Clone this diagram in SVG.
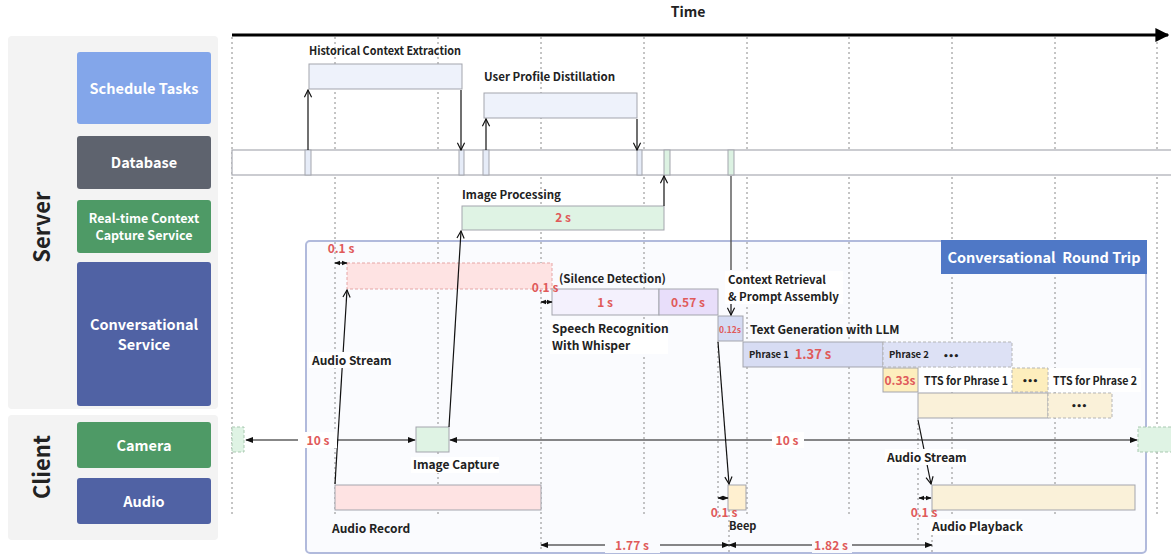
<svg xmlns="http://www.w3.org/2000/svg" width="1171" height="557" viewBox="0 0 1171 557">
<style>
text{font-family:"Noto Sans CJK SC","Noto Sans",sans-serif;font-weight:700;fill:#222}
.node{fill:#fff;font-size:14.5px;text-anchor:middle}
.grp{font-size:22px;text-anchor:middle}
.lbl{font-size:11.5px}
.red{fill:#e05a5a;font-size:12px;text-anchor:middle}
.grid{stroke:#8a8a8a;stroke-width:1;stroke-dasharray:2 3;fill:none}
.box{stroke:#a3a5ad;stroke-width:1}
.dash{stroke:#b5b5b5;stroke-width:1;stroke-dasharray:3 2}
.ln{stroke:#111;stroke-width:1.2;fill:none}
.bg{fill:#fff}
.dots{font-family:"DejaVu Sans",sans-serif;font-size:9px;letter-spacing:-0.5px;text-anchor:middle;fill:#222}
</style>
<defs>
<marker id="open" viewBox="0 0 10 10" refX="9" refY="5" markerWidth="9" markerHeight="9" markerUnits="userSpaceOnUse" orient="auto-start-reverse"><path d="M1,1 L9,5 L1,9" fill="none" stroke="#111" stroke-width="1.3"/></marker>
<marker id="tri" viewBox="0 0 10 10" refX="9" refY="5" markerWidth="8" markerHeight="8" markerUnits="userSpaceOnUse" orient="auto-start-reverse"><path d="M0,1 L10,5 L0,9 Z" fill="#111"/></marker>
<marker id="tiny" viewBox="0 0 10 10" refX="9" refY="5" markerWidth="6" markerHeight="6" markerUnits="userSpaceOnUse" orient="auto-start-reverse"><path d="M0,1 L10,5 L0,9 Z" fill="#111"/></marker>
<marker id="big" viewBox="0 0 10 10" refX="9" refY="5" markerWidth="14" markerHeight="14" markerUnits="userSpaceOnUse" orient="auto"><path d="M0,0 L10,5 L0,10 Z" fill="#000"/></marker>
</defs>
<rect width="1171" height="557" fill="#fff"/>

<g id="server-group">
<rect x="8" y="36" width="210" height="373" rx="4" fill="#f3f3f3"/>
<text class="grp" transform="translate(50,227) rotate(-90)">Server</text>
</g>
<g id="client-group">
<rect x="8" y="415" width="210" height="125" rx="4" fill="#f3f3f3"/>
<text class="grp" transform="translate(50,467) rotate(-90)">Client</text>
</g>
<g id="schedule-tasks"><rect x="77" y="52" width="134" height="72" rx="3" fill="#83a6ea"/><text class="node" x="144" y="94">Schedule Tasks</text></g>
<g id="database"><rect x="77" y="136" width="134" height="53" rx="3" fill="#5e636e"/><text class="node" x="144" y="168">Database</text></g>
<g id="realtime"><rect x="77" y="200" width="134" height="53" rx="3" fill="#4e9a66"/><text class="node" x="144" y="223" style="font-size:12.5px">Real-time Context</text><text class="node" x="144" y="240" style="font-size:12.5px">Capture Service</text></g>
<g id="conversational-service"><rect x="77" y="262" width="134" height="144" rx="3" fill="#5062a4"/><text class="node" x="144" y="330">Conversational</text><text class="node" x="144" y="350">Service</text></g>
<g id="camera"><rect x="77" y="422" width="134" height="46" rx="3" fill="#4e9a66"/><text class="node" x="144" y="451">Camera</text></g>
<g id="audio"><rect x="77" y="478" width="134" height="46" rx="3" fill="#5062a4"/><text class="node" x="144" y="507">Audio</text></g>

<g id="round-trip">
<rect x="306" y="241" width="840" height="312" rx="4" fill="#fafbfe" stroke="#b1badc" stroke-width="2"/>
</g>

<g id="grid">
<line class="grid" x1="232" y1="37" x2="232" y2="516"/>
<line class="grid" x1="335" y1="37" x2="335" y2="516"/>
<line class="grid" x1="438" y1="37" x2="438" y2="516"/>
<line class="grid" x1="541" y1="37" x2="541" y2="552"/>
<line class="grid" x1="644" y1="37" x2="644" y2="516"/>
<line class="grid" x1="747" y1="37" x2="747" y2="516"/>
<line class="grid" x1="849" y1="37" x2="849" y2="516"/>
<line class="grid" x1="952" y1="37" x2="952" y2="516"/>
<line class="grid" x1="1055" y1="37" x2="1055" y2="516"/>
<line class="grid" x1="1157" y1="37" x2="1157" y2="516"/>
<line class="grid" x1="718" y1="341" x2="718" y2="520"/>
<line class="grid" x1="729" y1="510" x2="729" y2="552"/>
<line class="grid" x1="918" y1="418" x2="918" y2="540"/>
<line class="grid" x1="932" y1="510" x2="932" y2="552"/>
</g>

<g id="time-axis">
<line x1="232" y1="35" x2="1168" y2="35" stroke="#000" stroke-width="3" marker-end="url(#big)"/>
<text x="688" y="17" style="font-size:14px" text-anchor="middle">Time</text>
</g>

<g id="db-row">
<rect x="232" y="150" width="945" height="25" fill="#fff" stroke="#a9abb2" stroke-width="1.2"/>
<rect x="305" y="150" width="6" height="25" fill="#e6ecf8" stroke="#a3a5ad"/>
<rect x="459" y="150" width="5" height="25" fill="#e6ecf8" stroke="#a3a5ad"/>
<rect x="483" y="150" width="6" height="25" fill="#e6ecf8" stroke="#a3a5ad"/>
<rect x="637" y="150" width="5" height="25" fill="#e6ecf8" stroke="#a3a5ad"/>
<rect x="664" y="150" width="6" height="25" fill="#dcf2e2" stroke="#a3a5ad"/>
<rect x="728" y="150" width="6" height="25" fill="#dcf2e2" stroke="#a3a5ad"/>
</g>

<g id="historical-context">
<rect class="box" x="309" y="64" width="153" height="25" fill="#eef2fb"/>
<text class="lbl" x="309" y="55" textLength="152" lengthAdjust="spacingAndGlyphs">Historical Context Extraction</text>
</g>
<g id="user-profile">
<rect class="box" x="484" y="93" width="153" height="25" fill="#eef2fb"/>
<text class="lbl" x="484" y="81">User Profile Distillation</text>
</g>
<g id="image-processing">
<rect class="box" x="462" y="206" width="202" height="24" fill="#dff3e4"/>
<text class="lbl" x="462" y="199">Image Processing</text>
<text class="red" x="563" y="222">2 s</text>
</g>

<g id="audio-stream-buffer">
<rect x="347" y="263" width="205" height="26" fill="#fee3e3" stroke="#e6a5a5" stroke-width="1" stroke-dasharray="3 2"/>
<text class="red" x="341" y="253">0.1 s</text>
</g>
<g id="speech-recognition">
<rect class="box" x="552" y="289" width="107" height="26" fill="#f4f1fd"/>
<rect class="box" x="659" y="289" width="59" height="26" fill="#e8defa"/>
<text class="red" x="605" y="307">1 s</text>
<text class="red" x="688" y="307">0.57 s</text>
<text class="lbl" x="559" y="283">(Silence Detection)</text>
<text class="red" x="545" y="292">0.1 s</text>
<rect class="bg" x="550" y="320" width="118" height="34"/>
<text class="lbl" x="552" y="333" style="font-size:12px">Speech Recognition</text>
<text class="lbl" x="552" y="350" style="font-size:12px">With Whisper</text>
</g>
<g id="context-retrieval">
<rect class="bg" x="725" y="271" width="118" height="33"/>
<text class="lbl" x="728" y="284">Context Retrieval</text>
<text class="lbl" x="728" y="301">&amp; Prompt Assembly</text>
</g>
<g id="text-generation">
<rect class="box" x="718" y="316" width="25" height="25" fill="#d5dbf3"/>
<text class="red" x="730" y="333" style="font-size:8.5px">0.12s</text>
<text class="lbl" x="750" y="334" style="font-size:12px">Text Generation with LLM</text>
<rect class="box" x="743" y="342" width="140" height="25" fill="#d7dcf3"/>
<text x="749" y="358" style="font-size:9.5px">Phrase 1</text>
<text class="red" x="813" y="359" style="font-size:13px">1.37 s</text>
<rect class="dash" x="883" y="342" width="129" height="25" fill="#dde1f5"/>
<text x="889" y="358" style="font-size:9.5px">Phrase 2</text>
<text class="dots" x="951" y="359">•••</text>
</g>
<g id="tts">
<rect class="box" x="883" y="368" width="35" height="24" fill="#fdeebd"/>
<text class="red" x="900" y="385">0.33s</text>
<rect class="bg" x="919" y="368" width="93" height="24"/>
<text class="lbl" x="924" y="385" textLength="84" lengthAdjust="spacingAndGlyphs">TTS for Phrase 1</text>
<rect class="dash" x="1012" y="368" width="36" height="24" fill="#fdeebd"/>
<text class="dots" x="1030" y="384">•••</text>
<rect class="bg" x="1049" y="368" width="92" height="24"/>
<text class="lbl" x="1053" y="385" textLength="84" lengthAdjust="spacingAndGlyphs">TTS for Phrase 2</text>
<rect class="box" x="918" y="393" width="130" height="25" fill="#faf1d9"/>
<rect class="dash" x="1048" y="393" width="64" height="25" fill="#faf1d9"/>
<text class="dots" x="1079" y="409">•••</text>
</g>

<g id="camera-timeline">
<rect x="232" y="427" width="12" height="25" fill="#dff3e4" stroke="#a9c9b1" stroke-dasharray="3 2"/>
<rect x="1138" y="427" width="40" height="25" fill="#dff3e4" stroke="#a9c9b1" stroke-dasharray="3 2"/>
</g>
<g id="image-capture">
<rect class="box" x="416" y="427" width="33" height="25" fill="#dff3e4"/>
<rect class="bg" x="411" y="457" width="88" height="16"/>
<text class="lbl" x="413" y="469" style="font-size:12px">Image Capture</text>
</g>
<g id="audio-record">
<rect class="box" x="335" y="485" width="206" height="25" fill="#fee3e3"/>
<text class="lbl" x="332" y="533" style="font-size:12px">Audio Record</text>
</g>
<g id="beep">
<rect class="box" x="728" y="485" width="18" height="25" fill="#fff0d0"/>
<text class="red" x="724" y="517">0.1 s</text>
<text class="lbl" x="729" y="530" style="font-size:11px">Beep</text>
</g>
<g id="audio-playback">
<rect class="box" x="932" y="485" width="203" height="25" fill="#faf1d9"/>
<text class="red" x="924" y="517">0.1 s</text>
<rect class="bg" x="930" y="519" width="92" height="16"/>
<text class="lbl" x="932" y="531" style="font-size:12px">Audio Playback</text>
</g>

<g id="round-trip-title">
<rect x="941" y="240" width="206" height="34" fill="#4f78c6"/>
<text x="1044" y="263" text-anchor="middle" style="font-size:14.5px;fill:#fff">Conversational&#160; Round Trip</text>
</g>

<g id="connectors">
<line class="ln" x1="308" y1="150" x2="308" y2="90" marker-end="url(#open)"/>
<line class="ln" x1="461" y1="90" x2="461" y2="150" marker-end="url(#open)"/>
<line class="ln" x1="486" y1="150" x2="486" y2="119" marker-end="url(#open)"/>
<line class="ln" x1="637" y1="119" x2="637" y2="150" marker-end="url(#open)"/>
<line class="ln" x1="664" y1="206" x2="664" y2="176" marker-end="url(#open)"/>
<line class="ln" x1="449" y1="427" x2="461" y2="231" marker-end="url(#open)"/>
<line class="ln" x1="335" y1="484" x2="347" y2="290" marker-end="url(#open)"/>
<line stroke="#555" stroke-width="1.4" x1="731" y1="176" x2="731" y2="270"/>
<line class="ln" x1="731" y1="304" x2="731" y2="315" marker-end="url(#open)"/>
<line class="ln" x1="718" y1="342" x2="729" y2="484" marker-end="url(#open)"/>
<line class="ln" x1="918" y1="420" x2="931" y2="484" marker-end="url(#open)"/>
<line class="ln" x1="335" y1="263" x2="347" y2="263" stroke-width="1" marker-start="url(#tiny)" marker-end="url(#tiny)"/>
<line class="ln" x1="541" y1="302" x2="552" y2="302" stroke-width="1" marker-start="url(#tiny)" marker-end="url(#tiny)"/>
<line class="ln" x1="718" y1="498" x2="728" y2="498" stroke-width="1" marker-start="url(#tiny)" marker-end="url(#tiny)"/>
<line class="ln" x1="919" y1="498" x2="931" y2="498" stroke-width="1" marker-start="url(#tiny)" marker-end="url(#tiny)"/>
<line class="ln" x1="246" y1="440" x2="415" y2="440" stroke-width="1" marker-start="url(#tri)" marker-end="url(#tri)"/>
<line class="ln" x1="450" y1="440" x2="1137" y2="440" stroke-width="1" marker-start="url(#tri)" marker-end="url(#tri)"/>
<line class="ln" x1="541" y1="545" x2="729" y2="545" stroke-width="1" marker-start="url(#tri)" marker-end="url(#tri)"/>
<line class="ln" x1="729" y1="545" x2="932" y2="545" stroke-width="1" marker-start="url(#tri)" marker-end="url(#tri)"/>
</g>

<g id="connector-labels">
<rect class="bg" x="309" y="352" width="82" height="16"/>
<text class="lbl" x="312" y="365" style="font-size:12px">Audio Stream</text>
<rect class="bg" x="885" y="449" width="82" height="16"/>
<text class="lbl" x="887" y="462" style="font-size:12px">Audio Stream</text>
<rect class="bg" x="298" y="432" width="39" height="16"/>
<text class="red" x="318" y="445">10 s</text>
<rect class="bg" x="772" y="432" width="32" height="16"/>
<text class="red" x="787" y="445">10 s</text>
<rect x="605" y="537" width="55" height="16" fill="#fafbfe"/>
<text class="red" x="632" y="550">1.77 s</text>
<rect x="812" y="537" width="40" height="16" fill="#fafbfe"/>
<text class="red" x="831" y="550">1.82 s</text>
</g>
</svg>
